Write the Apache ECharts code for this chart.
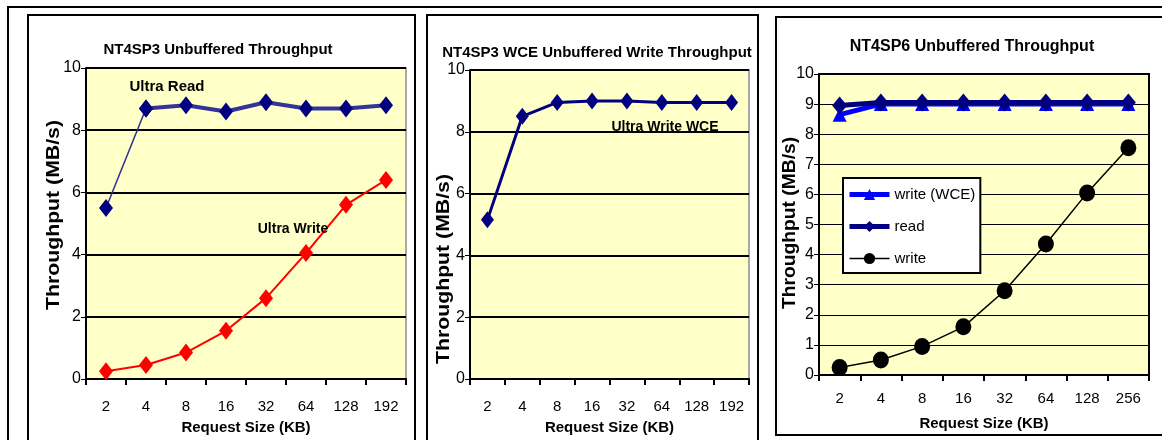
<!DOCTYPE html>
<html><head><meta charset="utf-8">
<script src="https://cdn.jsdelivr.net/npm/echarts@6/dist/echarts.min.js"></script>
<style>html,body{margin:0;padding:0;background:#fff}#c{width:1162px;height:440px}</style>
</head><body><div id="c"></div>
<script>
// ---- data ----
const sizesA = ['2','4','8','16','32','64','128','192'];
const sizesB = ['2','4','8','16','32','64','128','256'];
const sp3Read  = [5.5, 8.7, 8.8, 8.6, 8.9, 8.7, 8.7, 8.8];
const sp3Write = [0.25, 0.45, 0.85, 1.55, 2.6, 4.05, 5.6, 6.4];
const sp3WceWrite = [5.15, 8.5, 8.95, 9.0, 9.0, 8.95, 8.95, 8.95];
const sp6WriteWce = [8.65, 9.0, 9.0, 9.0, 9.0, 9.0, 9.0, 9.0];
const sp6Read  = [8.95, 9.05, 9.05, 9.05, 9.05, 9.05, 9.05, 9.05];
const sp6Write = [0.25, 0.5, 0.95, 1.6, 2.8, 4.35, 6.05, 7.55];
const titles = ['NT4SP3 Unbuffered Throughput','NT4SP3 WCE Unbuffered Write Throughput','NT4SP6 Unbuffered Throughput'];
const yTitle = 'Throughput (MB/s)';
const xTitle = 'Request Size (KB)';

const FONT = "'Liberation Sans', Arial, sans-serif";
const NAVY = '#000080';
const chart = echarts.init(document.getElementById('c'), null, {renderer:'canvas'});

function xAxis(idx, cats){
  return {gridIndex: idx, type:'category', data: cats, boundaryGap:true,
    axisLine:{show:true, lineStyle:{color:'#000', width:2}},
    axisTick:{show:true, length:6, lineStyle:{color:'#000', width:2}},
    axisLabel:{color:'#000', fontSize:15, fontFamily:FONT, margin: idx===2?16:20},
    name: xTitle, nameLocation:'middle', nameGap: 41,
    nameTextStyle:{color:'#000', fontSize:15, fontWeight:'bold', fontFamily:FONT}};
}
function yAxis(idx, interval, splitW){
  return {gridIndex: idx, type:'value', min:0, max:10, interval: interval,
    axisLine:{show:true, lineStyle:{color:'#000', width:2}},
    axisTick:{show:true, length:5, lineStyle:{color:'#000', width:1}},
    axisLabel:{color:'#000', fontSize:16, fontFamily:FONT, margin:5},
    splitLine:{show:true, lineStyle:{color:'#000', width:splitW}}};
}
function yName(x, y, scale){
  return {type:'text', x:x, y:y, rotation:Math.PI/2, scaleX:scale, z:10,
    style:{text:yTitle, textAlign:'center', textVerticalAlign:'middle', fill:'#000', font:"bold 18px "+FONT}};
}

const sp3ReadThin = sp3Read.map((v,i)=> i<2 ? v : '-');
const sp3ReadThick = sp3Read.map((v,i)=> i>=1 ? v : '-');

const option = {
  animation:false,
  grid:[
    {left:86, top:68, width:320, height:316, show:true, backgroundColor:'#FFFFC8', borderColor:'#A8A8A8', borderWidth:2},
    {left:470, top:70, width:279, height:314, show:true, backgroundColor:'#FFFFC8', borderColor:'#A8A8A8', borderWidth:2},
    {left:819, top:74, width:330, height:301, show:true, backgroundColor:'#FFFFC8', borderColor:'#000', borderWidth:2}
  ],
  xAxis:[xAxis(0,sizesA), xAxis(1,sizesA), xAxis(2,sizesB)],
  yAxis:[yAxis(0,2,2), yAxis(1,2,2), yAxis(2,1,1)],
  legend:{
    data:[
      {name:'write (WCE)', lineStyle:{width:5}},
      {name:'read', lineStyle:{width:5}},
      {name:'write', lineStyle:{width:1.5}}
    ],
    orient:'vertical', left:843, top:178,
    backgroundColor:'#fff', borderColor:'#000', borderWidth:2, padding:[9,5,7,4],
    itemWidth:40, itemHeight:14, itemGap:17,
    textStyle:{color:'#000', fontSize:15, fontFamily:FONT, padding:[6,0,0,0]}
  },
  series:[
    {name:'Ultra Read 2-4', type:'line', xAxisIndex:0, yAxisIndex:0, data:sp3ReadThin,
      symbol:'diamond', symbolSize:[14,18], itemStyle:{color:NAVY}, lineStyle:{color:'#2E2E90', width:1.5}, z:3},
    {name:'Ultra Read', type:'line', xAxisIndex:0, yAxisIndex:0, data:sp3ReadThick,
      symbol:'diamond', symbolSize:[14,18], itemStyle:{color:NAVY}, lineStyle:{color:'#33339A', width:4}, z:3},
    {name:'Ultra Write', type:'line', xAxisIndex:0, yAxisIndex:0, data:sp3Write,
      symbol:'diamond', symbolSize:[14,18], itemStyle:{color:'#FF0000'}, lineStyle:{color:'#FF0000', width:2}, z:3},
    {name:'Ultra Write WCE', type:'line', xAxisIndex:1, yAxisIndex:1, data:sp3WceWrite,
      symbol:'diamond', symbolSize:[13,17], itemStyle:{color:NAVY}, lineStyle:{color:NAVY, width:3}, z:3},
    {name:'write (WCE)', type:'line', xAxisIndex:2, yAxisIndex:2, data:sp6WriteWce,
      symbol:'triangle', symbolSize:[14,14], itemStyle:{color:'#0000FF'}, lineStyle:{color:'#0000FF', width:5}, z:3},
    {name:'read', type:'line', xAxisIndex:2, yAxisIndex:2, data:sp6Read,
      symbol:'diamond', symbolSize:[15,18], itemStyle:{color:NAVY}, lineStyle:{color:NAVY, width:5}, z:4},
    {name:'write', type:'line', xAxisIndex:2, yAxisIndex:2, data:sp6Write,
      symbol:'circle', symbolSize:[16,17], itemStyle:{color:'#000'}, lineStyle:{color:'#000', width:1.5}, z:5}
  ],
  graphic:[
    {type:'rect', shape:{x:8, y:7, width:1170, height:450}, style:{fill:null, stroke:'#000', lineWidth:2}, silent:true},
    {type:'rect', shape:{x:28, y:15, width:387, height:450}, style:{fill:null, stroke:'#000', lineWidth:2}, silent:true},
    {type:'rect', shape:{x:427, y:15, width:331, height:450}, style:{fill:null, stroke:'#000', lineWidth:2}, silent:true},
    {type:'rect', shape:{x:776, y:17, width:400, height:418}, style:{fill:null, stroke:'#000', lineWidth:2}, silent:true},
    {type:'text', x:218, y:50, style:{text:titles[0], textAlign:'center', textVerticalAlign:'middle', fill:'#000', font:"bold 15px "+FONT}},
    {type:'text', x:597, y:53, style:{text:titles[1], textAlign:'center', textVerticalAlign:'middle', fill:'#000', font:"bold 15px "+FONT}},
    {type:'text', x:972, y:47, style:{text:titles[2], textAlign:'center', textVerticalAlign:'middle', fill:'#000', font:"bold 16px "+FONT}},
    yName(54, 215, 1.18),
    yName(444, 269, 1.18),
    yName(790, 223, 1.07),
    {type:'text', x:167, y:87, z:10, style:{text:'Ultra Read', textAlign:'center', textVerticalAlign:'middle', fill:'#000', font:"bold 15px "+FONT}},
    {type:'text', x:293, y:229, z:10, style:{text:'Ultra Write', textAlign:'center', textVerticalAlign:'middle', fill:'#000', font:"bold 14px "+FONT}},
    {type:'text', x:665, y:127, z:10, style:{text:'Ultra Write WCE', textAlign:'center', textVerticalAlign:'middle', fill:'#000', font:"bold 14px "+FONT}}
  ]
};
chart.setOption(option);
</script></body></html>
